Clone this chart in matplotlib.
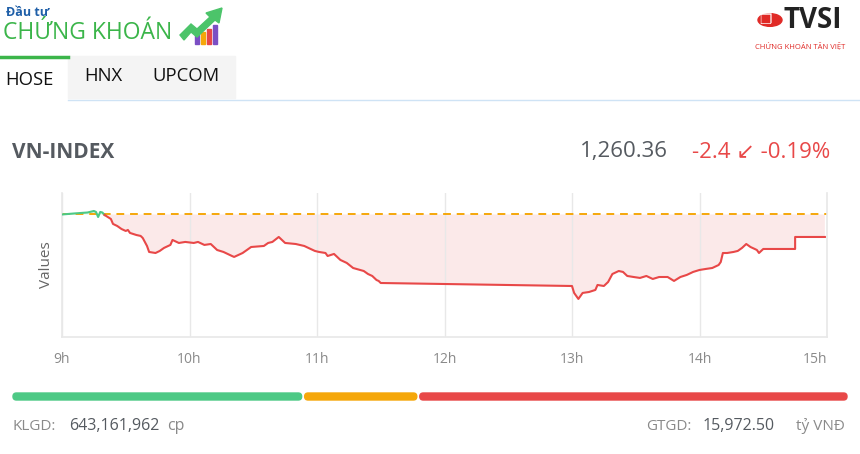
import matplotlib
matplotlib.use("Agg")
import matplotlib.pyplot as plt
from matplotlib.patches import Rectangle, FancyBboxPatch, Circle, Polygon
import numpy as np

plt.rcParams['font.family'] = ['Open Sans', 'DejaVu Sans']

# ---- data ----
times = ["09:00", "09:06", "09:12", "09:15", "09:16", "09:17", "09:18",
         "09:19", "09:20", "09:23", "09:24", "09:26", "09:28", "09:30", "09:31",
         "09:32", "09:35", "09:37", "09:38", "09:40", "09:41", "09:44", "09:46",
         "09:48", "09:51", "09:52", "09:55", "09:58", "10:02", "10:04", "10:07",
         "10:10", "10:13", "10:16", "10:20", "10:21", "10:25", "10:29", "10:35",
         "10:37", "10:39", "10:42", "10:45", "10:50", "10:54", "10:57", "10:59",
         "11:01", "11:04", "11:05", "11:08", "11:11", "11:14", "11:17", "11:22",
         "11:24", "11:26", "11:28", "11:29", "11:30",
         "13:00", "13:01", "13:03", "13:05", "13:08", "13:11", "13:12", "13:15",
         "13:17", "13:19", "13:22", "13:24", "13:26", "13:29", "13:32", "13:35",
         "13:38", "13:41", "13:45", "13:48", "13:51", "13:54", "13:57", "14:00",
         "14:03", "14:06", "14:09", "14:10", "14:11", "14:13", "14:16", "14:18",
         "14:20", "14:22", "14:24", "14:26", "14:27", "14:28", "14:30",
         "14:45", "14:45", "14:59"]
values = [1262.76, 1262.87, 1262.97, 1263.13, 1263.03, 1262.49, 1263.03,
          1262.97, 1262.71, 1262.28, 1261.75, 1261.53, 1261.21, 1261.00, 1261.11,
          1260.79, 1260.57, 1260.47, 1260.25, 1259.40, 1258.76, 1258.65, 1258.87,
          1259.19, 1259.51, 1260.04, 1259.72, 1259.83, 1259.72, 1259.83, 1259.51,
          1259.61, 1258.97, 1258.76, 1258.33, 1258.23, 1258.65, 1259.29, 1259.40,
          1259.72, 1259.83, 1260.36, 1259.72, 1259.61, 1259.40, 1259.08, 1258.87,
          1258.76, 1258.65, 1258.33, 1258.55, 1257.91, 1257.59, 1257.05, 1256.73,
          1256.41, 1256.20, 1255.77, 1255.67, 1255.45,
          1255.13, 1254.39, 1253.75, 1254.39, 1254.49, 1254.71, 1255.24, 1255.13,
          1255.56, 1256.41, 1256.73, 1256.63, 1256.20, 1256.09, 1255.99, 1256.20,
          1255.88, 1256.09, 1256.09, 1255.67, 1256.09, 1256.31, 1256.63, 1256.84,
          1256.95, 1257.05, 1257.37, 1257.69, 1258.65, 1258.65, 1258.76, 1258.87,
          1259.19, 1259.61, 1259.29, 1259.08, 1258.97, 1258.65, 1259.08,
          1259.08, 1260.36, 1260.36]
ref_value = 1262.76
index_last = "1,260.36"
index_change = "-2.4 \u2199 -0.19%"
hour_ticks = [9, 10, 11, 12, 13, 14, 15]
hour_labels = ["9h", "10h", "11h", "12h", "13h", "14h", "15h"]
breadth = [175, 68, 259]          # up / unchanged / down
breadth_colors = ["#4dc985", "#f5a70a", "#e84848"]
klgd = "643,161,962"
gtgd = "15,972.50"

t = np.array([int(s[:2]) + int(s[3:]) / 60 for s in times])
v = np.array(values)

W, H = 860, 454
fig = plt.figure(figsize=(W / 100, H / 100), dpi=100)


def px(x, y):
    return x / W, 1 - y / H


def ftext(x, y, s, **kw):
    kw.setdefault("va", "center")
    fig.text(*px(x, y), s, **kw)


# ---- header: logos ----
ftext(6, 12, "Đầu tư", fontsize=9, color="#1f5fa8", fontweight="bold")
ftext(3, 33, "CHỨNG KHOÁN", fontsize=16.5, color="#3bb54a", fontweight="medium")
# small chart logo
for bx, bh, bc in [(195, 10, "#7b4fc4"), (201, 12, "#f5a70a"), (207, 15, "#e84848"), (213, 19, "#7b4fc4")]:
    fig.patches.append(Rectangle(px(bx, 44), 4 / W, bh / H, transform=fig.transFigure,
                                 color=bc, zorder=3))
fig.patches.append(Polygon([px(180, 35), px(191, 24), px(197, 29), px(210, 17),
                            px(206, 13), px(222, 8), px(219, 23), px(215, 20),
                            px(197, 37), px(191, 32), px(184, 40)],
                           closed=True, transform=fig.transFigure, color="#4cc46a", zorder=4))

fig.patches.append(Circle(px(770, 20), 12 / W, transform=fig.transFigure, color="#e02a26"))
ftext(765, 20, "\u2750", fontsize=10, color="white", ha="center", family=["DejaVu Sans"])
ftext(784, 21, "TVSI", fontsize=20, color="#222222", fontweight="bold")
ftext(755, 46, "CHỨNG KHOÁN TÂN VIỆT", fontsize=5.5, color="#e02a26")

# ---- tabs ----
fig.patches.append(Rectangle(px(68, 98), 167 / W, 42 / H, transform=fig.transFigure,
                             color="#f4f4f4", zorder=0))
fig.lines.append(plt.Line2D([0, 68 / W], [1 - 57 / H] * 2, transform=fig.transFigure,
                            color="#3bb54a", lw=2.5))
fig.lines.append(plt.Line2D([68 / W, 1], [1 - 99.5 / H] * 2, transform=fig.transFigure,
                            color="#cfe3f5", lw=1))
ftext(5, 80, "HOSE", fontsize=13.3, color="#111111")
ftext(84, 76, "HNX", fontsize=13.3, color="#111111")
ftext(152, 76, "UPCOM", fontsize=13.3, color="#111111")

# ---- index header ----
ftext(12, 152, "VN-INDEX", fontsize=15, color="#555a60", fontweight="bold")
ftext(668, 152, index_last, fontsize=16, color="#555a60", ha="right")
ftext(830, 152, index_change, fontsize=16, color="#e84848", ha="right",
      family=["Open Sans", "DejaVu Sans"])

# ---- chart ----
ax = fig.add_axes([62 / W, 1 - 337 / H, 765 / W, 144 / H])
ax.set_xlim(9, 15)
ax.set_ylim(1249.69, 1265.05)

n_up = 9
ax.plot(t[:n_up], v[:n_up], color="#4dc985", lw=1.5, zorder=3)
ax.plot(t[n_up - 1:], v[n_up - 1:], color="#e84848", lw=1.5, zorder=3)
ax.fill_between(t, v, ref_value, where=v <= ref_value, interpolate=True,
                color="#fbe6e6", alpha=0.85, lw=0, zorder=1)
ax.fill_between(t, v, ref_value, where=v >= ref_value, interpolate=True,
                color="#dff5e8", alpha=0.85, lw=0, zorder=1)
ax.axhline(ref_value, color="#f5a70a", lw=1.4, ls=(0, (4, 3)), zorder=2)

ax.set_xticks(hour_ticks)
ax.set_xticklabels(hour_labels)
ax.set_yticks([])
ax.tick_params(axis="x", length=0, pad=11, labelsize=10, labelcolor="#8a8a8a")
ax.xaxis.get_ticklabels()[-1].set_ha("right")
ax.grid(axis="x", color="#e8e8e8", lw=1)
ax.spines["top"].set_visible(False)
for s in ["left", "bottom", "right"]:
    ax.spines[s].set_color("#e8e8e8")
    ax.spines[s].set_linewidth(1.2)
ax.set_ylabel("Values", fontsize=11, color="#666666", labelpad=6)

# ---- breadth bar ----
x0, x1, gap = 13, 847, 3
total = sum(breadth)
avail = (x1 - x0) - gap * (len(breadth) - 1)
xc = x0
for cnt, col in zip(breadth, breadth_colors):
    w = avail * cnt / total
    fig.patches.append(FancyBboxPatch(px(xc, 400), w / W, 7 / H,
                                      boxstyle="round,pad=0,rounding_size=0.004",
                                      transform=fig.transFigure, color=col, mutation_aspect=W / H))
    xc += w + gap

# ---- footer ----
ftext(12, 426, "KLGD:", fontsize=11, color="#8a8a8a")
ftext(69, 426, klgd, fontsize=11.5, color="#555a60")
ftext(167, 426, "cp", fontsize=11.5, color="#8a8a8a")
ftext(646, 426, "GTGD:", fontsize=11, color="#8a8a8a")
ftext(703, 426, gtgd, fontsize=11.5, color="#555a60")
ftext(845, 426, "tỷ VNĐ", fontsize=11, color="#8a8a8a", ha="right")

fig.savefig("out.png", dpi=100)
